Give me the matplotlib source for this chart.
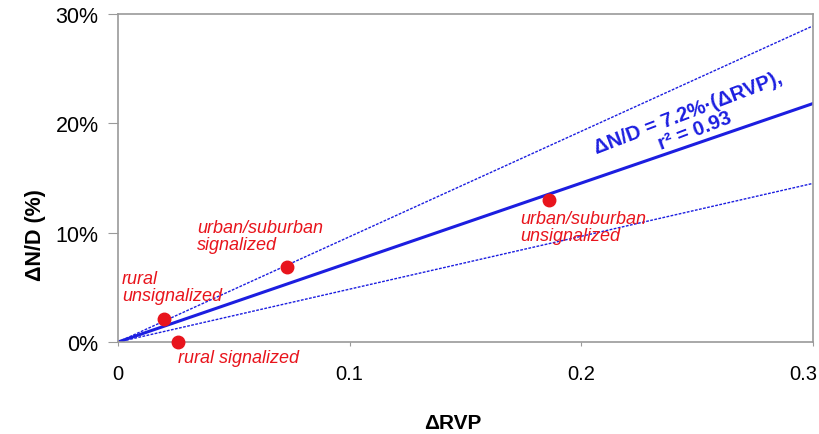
import matplotlib
matplotlib.use("Agg")
import matplotlib.pyplot as plt
from matplotlib.ticker import FuncFormatter
import matplotlib.transforms as mtransforms

plt.rcParams['font.family'] = ['Liberation Sans', 'DejaVu Sans']

# Data
rvp = [0.020, 0.026, 0.073, 0.186]
nd = [2.1, 0.0, 6.9, 13.0]
labels = ["rural\nunsignalized", "rural signalized", "urban/suburban\nsignalized", "urban/suburban\nunsignalized"]
fit_x = [0.0, 0.3]
fit_y = [0.0, 21.8]
upper_y = [0.0, 28.9]
lower_y = [0.0, 14.5]
xticks = [0, 0.1, 0.2, 0.3]
xticklabels = ["0", "0.1", "0.2", "0.3"]
yticks = [0, 10, 20, 30]

BLUE = "#1c1ee0"
RED = "#e8141c"
GRAY = "#9a9a9a"

fig = plt.figure(figsize=(8.2, 4.35), dpi=100)
ax = fig.add_axes([0.144, 0.2115, 0.847, 0.754])

ax.plot(fit_x, upper_y, color=BLUE, lw=1.0, ls=(0, (2, 1)))
ax.plot(fit_x, lower_y, color=BLUE, lw=1.0, ls=(0, (2, 1)))
ax.plot(fit_x, fit_y, color=BLUE, lw=2.2)
ax.plot(rvp, nd, 'o', color=RED, ms=9, clip_on=False, zorder=5)

label_pos = [(0.0017, 5.0), (0.026, -1.4), (0.0342, 9.7), (0.1736, 10.5)]
for (lx, ly), t in zip(label_pos, labels):
    ax.text(lx, ly, t, color=RED, fontsize=13, style='italic', ha='left', va='center',
            linespacing=1.0)

ax.text(0.2476, 20.2, "ΔN/D = 7.2%·(ΔRVP),\nr² = 0.93", color=BLUE, fontsize=14.5,
        fontweight='bold', rotation=21, rotation_mode='anchor', ha='center', va='center',
        linespacing=0.95)

ax.set_xlim(0, 0.3)
ax.set_ylim(0, 30)
ax.set_xticks(xticks)
ax.set_xticklabels(xticklabels)
ax.set_yticks(yticks)
ax.yaxis.set_major_formatter(FuncFormatter(lambda v, p: f"{v:.0f}%"))

for s in ax.spines.values():
    s.set_color(GRAY)
    s.set_linewidth(1.2)

ax.tick_params(axis='y', direction='out', length=7, color=GRAY, labelsize=15.5, pad=7)
ax.tick_params(axis='x', direction='out', length=3, color=GRAY, labelsize=14.5, pad=13)

last = ax.get_xticklabels()[-1]
last.set_horizontalalignment('right')
last.set_transform(last.get_transform() + mtransforms.ScaledTranslation(5 / 100, 0, fig.dpi_scale_trans))

ax.set_xlabel("ΔRVP", fontsize=15, fontweight='bold', va='center')
ax.xaxis.set_label_coords(0.482, -0.244)
ax.set_ylabel("ΔN/D (%)", fontsize=15.5, fontweight='bold', va='center')
ax.yaxis.set_label_coords(-0.119, 0.33)

fig.savefig("out.png", dpi=100)
